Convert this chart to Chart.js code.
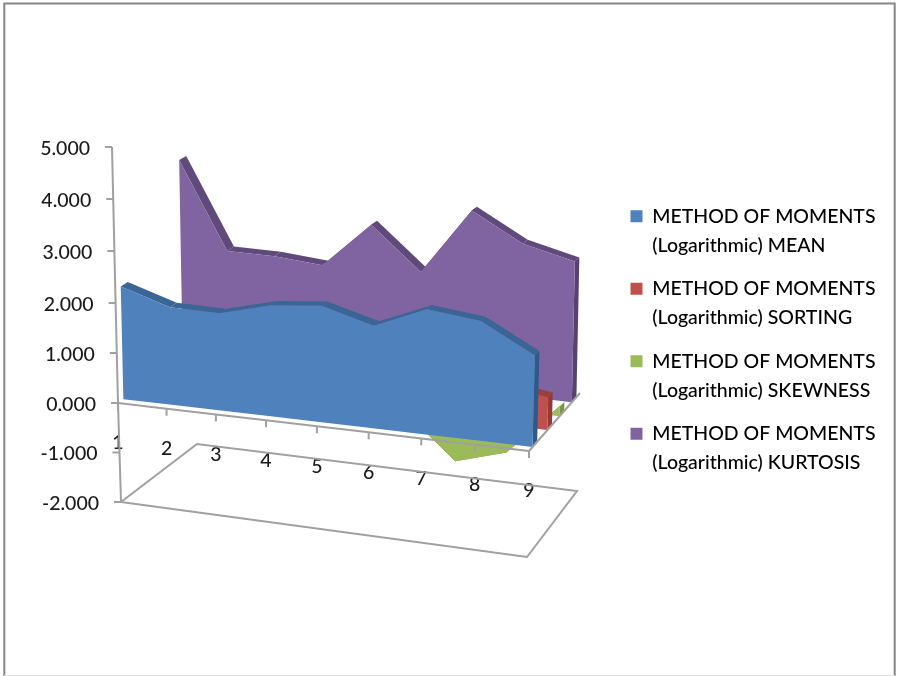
<!DOCTYPE html>
<html>
<head>
<meta charset="utf-8">
<title>Method of moments (logarithmic)</title>
<style>
  html, body { margin: 0; padding: 0; background: #fff; }
  #wrap { position: absolute; left: 0; top: 0; width: 897px; height: 676px; }
</style>
<script src="https://cdn.jsdelivr.net/npm/chart.js@4"></script>
</head>
<body>
<div id="wrap"><canvas id="chart" width="897" height="676"></canvas></div>
<script>
// Measured parameters per sample
const categories = [1, 2, 3, 4, 5, 6, 7, 8, 9];
const yTicks = [-2, -1, 0, 1, 2, 3, 4, 5];
const meanValues = [2.25, 1.94, 1.92, 2.17, 2.26, 1.98, 2.39, 2.27, 1.72];
const sortingValues = [0.85, 0.72, 0.70, 0.80, 0.88, 0.72, 0.95, 0.78, 0.63];
const skewnessValues = [0.35, 0.25, -0.10, 0.15, 0.20, -0.28, -1.14, -0.84, 0.18];
const kurtosisValues = [4.06, 2.29, 2.29, 2.21, 3.14, 2.29, 3.64, 3.08, 2.83];

const seriesPrefix = 'METHOD OF MOMENTS';
const seriesSuffix = '(Logarithmic) ';

// Front to back. near/far give the slab's extent along the depth axis (0..1).
const series = [
  { name: 'MEAN',     values: meanValues,     near: 0.07, far: 0.16, face: '#4f81bd', top: '#3a6595', side: '#2e5a88' },
  { name: 'SORTING',  values: sortingValues,  near: 0.36, far: 0.45, face: '#c0504d', top: '#9c3f3d', side: '#93393a' },
  { name: 'SKEWNESS', values: skewnessValues, near: 0.60, far: 0.69, face: '#9bbb59', top: '#7f9a48', side: '#7a9545' },
  { name: 'KURTOSIS', values: kurtosisValues, near: 0.84, far: 0.93, face: '#8064a2', top: '#604a7b', side: '#57426f' }
];

// Screen position of the box corners at the value levels that bound the
// stretches of the value axis.
const LEVELS = [-2, 0, 2, 5];
const BOX = {
  '-2': { fl: [121, 502],     fr: [527, 557],     bl: [197, 444],     br: [577, 491] },
  '0':  { fl: [118, 403],     fr: [529, 451],     bl: [195, 348],     br: [580, 393] },
  '2':  { fl: [115.6, 303],   fr: [531.8, 344.2], bl: [193.4, 252],   br: [582, 295] },
  '5':  { fl: [112, 147],     fr: [536, 184],     bl: [191, 108],     br: [585, 148] }
};
const PLOT = { left: 118, top: 147, bottom: 502, xPerCategory: 51.375, xMax: 11 };
const yPerValue = (PLOT.bottom - PLOT.top) / 7;

function lerp(a, b, t) { return a + (b - a) * t; }

function planeAt(level, s, d) {
  const c = BOX[level];
  const out = [];
  for (let k = 0; k < 2; k++) {
    out.push(lerp(lerp(c.fl[k], c.fr[k], s), lerp(c.bl[k], c.br[k], s), d));
  }
  return out;
}

// Perspective mapping from (category, value, depth) into plot coordinates of
// the two axes: x in category units, y in value units.
function project(cat, value, depth) {
  const t = (cat - 1) / 8;
  const s = t / (1 + 0.066 * (1 - t));
  let i = 0;
  while (i < LEVELS.length - 2 && value > LEVELS[i + 1]) i++;
  const low = planeAt(LEVELS[i], s, depth);
  const high = planeAt(LEVELS[i + 1], s, depth);
  const f = (value - LEVELS[i]) / (LEVELS[i + 1] - LEVELS[i]);
  const px = lerp(low[0], high[0], f);
  const py = lerp(low[1], high[1], f);
  return { x: 1 + (px - PLOT.left) / PLOT.xPerCategory, y: 5 - (py - PLOT.top) / yPerValue };
}

// Tick labels follow the slanted axes rather than sitting in a straight column.
const labelAnchors = {
  y: (v, sx, sy) => {
    const p = project(1, v, 0);
    return { x: sx.getPixelForValue(p.x) - 22, y: sy.getPixelForValue(p.y) + 1.5, align: 'right' };
  },
  x: (v, sx, sy) => {
    const p = project(v, 0, 0);
    return { x: sx.getPixelForValue(p.x), y: sy.getPixelForValue(p.y) + 40, align: 'center' };
  }
};

class ProjectedScale extends Chart.LinearScale {
  static id = 'projected';
  static defaults = Chart.LinearScale.defaults;
  afterFit() {
    if (this.isHorizontal()) { this.height = 0; } else { this.width = 0; }
  }
  // The axes have no box of their own, so their labels must not be clipped to one.
  _computeLabelArea() { return undefined; }
  _computeLabelItems(chartArea) {
    const items = super._computeLabelItems(chartArea);
    const { x: sx, y: sy } = this.chart.scales;
    items.forEach((item, i) => {
      const a = labelAnchors[this.id](this.ticks[i].value, sx, sy);
      item.textOffset = 0;
      item.options.translation = [a.x, a.y];
      item.options.textAlign = a.align;
      item.options.textBaseline = 'middle';
    });
    return items;
  }
}
Chart.register(ProjectedScale);

function polygon(points, color) {
  return {
    data: points, showLine: true, fill: 'shape', backgroundColor: color,
    borderWidth: 0, pointRadius: 0, pointHoverRadius: 0, clip: false
  };
}

// The first dataset is painted last, so each slab lists its front face first.
const datasets = [];
series.forEach(s => {
  const n = categories.length;
  const tops = categories.map((c, i) => project(c, s.values[i], s.near));
  const base = categories.map(c => project(c, 0, s.near));
  datasets.push(polygon(base.concat(tops.slice().reverse()), s.face));
  const last = categories[n - 1];
  datasets.push(polygon([
    project(last, 0, s.near), project(last, s.values[n - 1], s.near),
    project(last, s.values[n - 1], s.far), project(last, 0, s.far)
  ], s.side));
  for (let i = 0; i < n - 1; i++) {
    datasets.push(polygon([
      project(categories[i], s.values[i], s.near), project(categories[i + 1], s.values[i + 1], s.near),
      project(categories[i + 1], s.values[i + 1], s.far), project(categories[i], s.values[i], s.far)
    ], s.top));
  }
});

const framePlugin = {
  id: 'frame',
  afterLayout(chart) {
    // Place the legend in the free space to the right of the box.
    const lg = chart.legend;
    lg.left = 616; lg.right = 890; lg.top = 192; lg.bottom = 676;
  },
  beforeDraw(chart) {
    const ctx = chart.ctx;
    ctx.save();
    ctx.strokeStyle = '#868686';
    ctx.lineWidth = 2;
    ctx.beginPath();
    ctx.moveTo(4.3, 676); ctx.lineTo(4.3, 3.6); ctx.lineTo(894.7, 3.6); ctx.lineTo(894.7, 676);
    ctx.stroke();
    ctx.strokeStyle = '#dddddd';
    ctx.lineWidth = 1;
    ctx.beginPath(); ctx.moveTo(4, 675.5); ctx.lineTo(895, 675.5); ctx.stroke();
    ctx.restore();
  },
  afterDatasetsDraw(chart) {
    const { ctx, scales: { x: sx, y: sy } } = chart;
    const px = p => [sx.getPixelForValue(p.x), sy.getPixelForValue(p.y)];
    const first = categories[0], last = categories[categories.length - 1];
    const path = (pts) => {
      ctx.beginPath();
      pts.forEach((p, i) => { const q = px(p); i ? ctx.lineTo(q[0], q[1]) : ctx.moveTo(q[0], q[1]); });
      ctx.stroke();
    };
    ctx.save();
    ctx.strokeStyle = '#a0a0a0';
    ctx.lineWidth = 2;
    // Value axis and its tick marks
    path(yTicks.map(v => project(first, v, 0)));
    yTicks.forEach(v => {
      const q = px(project(first, v, 0));
      ctx.beginPath(); ctx.moveTo(q[0] - 7, q[1]); ctx.lineTo(q[0], q[1]); ctx.stroke();
    });
    // Category axis and the edge running back from it
    path(categories.map(c => project(c, 0, 0)));
    path([project(last, 0, 0), project(last, 0, 1)]);
    categories.forEach(c => {
      const q = px(project(c, 0, 0));
      ctx.beginPath(); ctx.moveTo(q[0], q[1]); ctx.lineTo(q[0], q[1] + 7); ctx.stroke();
    });
    // Floor
    path([project(first, -2, 0), project(last, -2, 0), project(last, -2, 1), project(first, -2, 1), project(first, -2, 0)]);
    ctx.restore();
  }
};

new Chart(document.getElementById('chart'), {
  type: 'scatter',
  data: { datasets },
  plugins: [framePlugin],
  options: {
    responsive: false,
    animation: false,
    events: [],
    layout: {
      padding: {
        left: PLOT.left, top: PLOT.top, bottom: 676 - PLOT.bottom,
        right: 897 - (PLOT.left + (PLOT.xMax - 1) * PLOT.xPerCategory)
      }
    },
    scales: {
      x: {
        type: 'projected', min: 1, max: PLOT.xMax,
        grid: { display: false }, border: { display: false },
        afterBuildTicks: s => { s.ticks = categories.map(value => ({ value })); },
        ticks: {
          autoSkip: false, maxRotation: 0, minRotation: 0, color: '#1a1a1a',
          font: { family: 'Lato', size: 19.5, weight: '500' }, callback: v => String(v)
        }
      },
      y: {
        type: 'projected', min: -2, max: 5,
        grid: { display: false }, border: { display: false },
        afterBuildTicks: s => { s.ticks = yTicks.map(value => ({ value })); },
        ticks: {
          autoSkip: false, color: '#1a1a1a',
          font: { family: 'Lato', size: 19.5, weight: '500' }, callback: v => Number(v).toFixed(3)
        }
      }
    },
    plugins: {
      tooltip: { enabled: false },
      legend: {
        position: 'chartArea',
        align: 'start',
        labels: {
          boxWidth: 12, boxHeight: 12, padding: 14.5, color: '#1a1a1a',
          font: { family: 'Lato', size: 19.5, weight: '500', lineHeight: 29 / 19.5 },
          generateLabels: () => series.map(s => ({
            text: [seriesPrefix, seriesSuffix + s.name],
            fillStyle: s.face, strokeStyle: s.face, lineWidth: 0, hidden: false
          }))
        }
      }
    }
  }
});
</script>
</body>
</html>
